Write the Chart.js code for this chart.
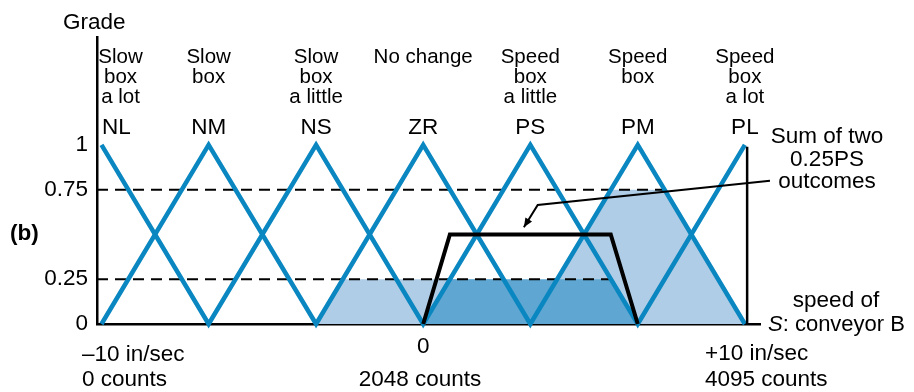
<!DOCTYPE html>
<html>
<head>
<meta charset="utf-8">
<script src="https://cdn.jsdelivr.net/npm/chart.js@4.4.0/dist/chart.umd.min.js"></script>
<style>
html, body { margin: 0; padding: 0; background: #fff; }
canvas { display: block; }
</style>
</head>
<body>
<canvas id="fuzzyChart" width="914" height="392"></canvas>
<script>
var categories = ["NL", "NM", "NS", "ZR", "PS", "PM", "PL"];
var descriptions = [["Slow", "box", "a lot"], ["Slow", "box"], ["Slow", "box", "a little"], ["No change"],
                    ["Speed", "box", "a little"], ["Speed", "box"], ["Speed", "box", "a lot"]];
var peaks = [-10, -6.67, -3.33, 0, 3.33, 6.67, 10];   // in/sec
var yTicks = [0, 0.25, 0.75, 1];

// clipped outcomes: base left, top left, top right, base right
var zrClip = [-3.33, -2.5, 2.5, 3.33];  var zrGrade = 0.25;
var pmClip = [3.33, 5.83, 7.5, 10];     var pmGrade = 0.75;
var psClip = [0, 0.83, 5.83, 6.67];     var psGrade = 0.25;
var psSumGrade = 0.5;                   // sum of two 0.25PS outcomes

var dash075 = [-10.14, 7.5];
var dash025 = [-10.14, 5.83];
var rightEdge = 10.07;

var blue = "#0a87c1";
var light = "#afcde6";
var dark = "#5fa7d2";
var font = "'Liberation Sans', Arial, sans-serif";

function trap(xs, g) {
  return [{x: xs[0], y: 0}, {x: xs[1], y: g}, {x: xs[2], y: g}, {x: xs[3], y: 0}];
}

// two zigzags make all the triangles
var zigA = peaks.map(function (p, i) { return {x: p, y: i % 2 === 0 ? 1 : 0}; });
var zigB = peaks.map(function (p, i) { return {x: p, y: i % 2 === 0 ? 0 : 1}; });

var textPlugin = {
  id: "texts",
  afterDatasetsDraw: function (chart) {
    var c = chart.ctx;
    var xs = chart.scales.x, ys = chart.scales.y;
    var big = "22.5px " + font;
    c.save();
    c.fillStyle = "#000";
    c.textBaseline = "alphabetic";

    c.font = big;
    c.textAlign = "left";
    c.fillText("Grade", 63, 29);

    c.textAlign = "center";
    for (var i = 0; i < categories.length; i++) {
      var px = xs.getPixelForValue(peaks[i]);
      c.font = "20.5px " + font;
      for (var j = 0; j < descriptions[i].length; j++) {
        c.fillText(descriptions[i][j], px + (i === 0 ? 19 : 0), 63 + j * 20);
      }
      c.font = big;
      c.fillText(categories[i], px + (i === 0 ? 15 : 0), 134);
    }

    c.font = big;
    c.fillText("Sum of two", 827, 143);
    c.fillText("0.25PS", 827, 166);
    c.fillText("outcomes", 827, 188);
    c.fillText("speed of", 836, 307);

    c.textAlign = "left";
    c.font = "italic 22px " + font;
    c.fillText("S", 768, 331);
    var sw = c.measureText("S").width;
    c.font = "22px " + font;
    c.fillText(": conveyor B", 768 + sw, 331);

    c.font = big;
    c.fillText("\u201310 in/sec", 82, 361);
    c.fillText("0 counts", 82, 386);
    c.fillText("+10 in/sec", 705, 360);
    c.fillText("4095 counts", 705, 386);
    c.textAlign = "center";
    c.fillText("0", xs.getPixelForValue(0), 353);
    c.fillText("2048 counts", 420, 386);

    c.textAlign = "left";
    c.font = "bold 22.5px " + font;
    c.fillText("(b)", 10, 240);

    // arrow to the summed outcome
    var p0 = [xs.getPixelForValue(10.78), ys.getPixelForValue(0.8)];
    var p1 = [xs.getPixelForValue(3.56), ys.getPixelForValue(0.665)];
    var p2 = [xs.getPixelForValue(3.13), ys.getPixelForValue(0.54)];
    c.strokeStyle = "#000";
    c.lineWidth = 2;
    c.beginPath();
    c.moveTo(p0[0], p0[1]);
    c.lineTo(p1[0], p1[1]);
    c.lineTo(p2[0], p2[1]);
    c.stroke();
    var ang = Math.atan2(p2[1] - p1[1], p2[0] - p1[0]);
    c.beginPath();
    c.moveTo(p2[0], p2[1]);
    c.lineTo(p2[0] - 10 * Math.cos(ang - 0.4), p2[1] - 10 * Math.sin(ang - 0.4));
    c.lineTo(p2[0] - 10 * Math.cos(ang + 0.4), p2[1] - 10 * Math.sin(ang + 0.4));
    c.closePath();
    c.fillStyle = "#000";
    c.fill();
    c.restore();
  }
};

var ctx = document.getElementById("fuzzyChart").getContext("2d");

new Chart(ctx, {
  type: "scatter",
  data: {
    datasets: [
      { data: trap(zrClip, zrGrade), showLine: true, fill: "origin", backgroundColor: light, borderWidth: 0, pointRadius: 0, order: 10 },
      { data: trap(pmClip, pmGrade), showLine: true, fill: "origin", backgroundColor: light, borderWidth: 0, pointRadius: 0, order: 9 },
      { data: trap(psClip, psGrade), showLine: true, fill: "origin", backgroundColor: dark, borderWidth: 0, pointRadius: 0, order: 8 },
      { data: [{x: dash075[0], y: 0.75}, {x: dash075[1], y: 0.75}], showLine: true, borderColor: "#000", borderWidth: 2, borderDash: [11, 7], pointRadius: 0, order: 7 },
      { data: [{x: dash025[0], y: 0.25}, {x: dash025[1], y: 0.25}], showLine: true, borderColor: "#000", borderWidth: 2, borderDash: [11, 7], pointRadius: 0, order: 6 },
      { data: zigA, showLine: true, borderColor: blue, borderWidth: 4.5, borderJoinStyle: "miter", pointRadius: 0, order: 5 },
      { data: zigB, showLine: true, borderColor: blue, borderWidth: 4.5, borderJoinStyle: "miter", pointRadius: 0, order: 4 },
      { data: trap(psClip, psSumGrade), showLine: true, borderColor: "#000", borderWidth: 4, borderJoinStyle: "miter", pointRadius: 0, order: 3 },
      { data: [{x: rightEdge, y: 0}, {x: rightEdge, y: 0.99}], showLine: true, borderColor: "#000", borderWidth: 2.5, pointRadius: 0, order: 2 }
    ]
  },
  options: {
    responsive: false,
    animation: false,
    clip: false,
    layout: { padding: { left: 0, top: 37, right: 154, bottom: 68 } },
    plugins: { legend: { display: false }, tooltip: { enabled: false } },
    scales: {
      x: {
        type: "linear",
        min: -10.14,
        max: 10.47,
        grid: { display: false, drawTicks: false },
        border: { display: true, color: "#000", width: 2.5 },
        ticks: { display: false },
        afterFit: function (s) { s.height = 0; }
      },
      y: {
        min: 0,
        max: 1.603,
        grid: { display: false, drawTicks: false },
        border: { display: true, color: "#000", width: 2.5 },
        afterBuildTicks: function (s) { s.ticks = yTicks.map(function (v) { return {value: v}; }); },
        afterFit: function (s) { s.width = 97; },
        ticks: {
          color: "#000",
          padding: 9,
          font: { family: "'Liberation Sans', Arial, sans-serif", size: 22.5 },
          callback: function (v) { return String(v); }
        }
      }
    }
  },
  plugins: [textPlugin]
});
</script>
</body>
</html>
